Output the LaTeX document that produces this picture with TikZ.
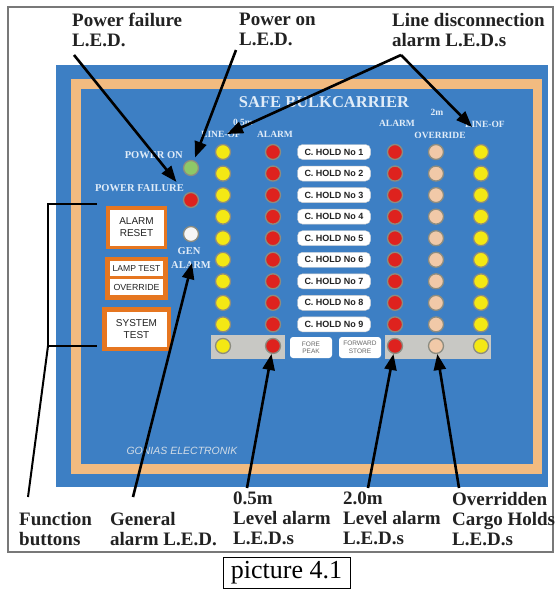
\documentclass[tikz,border=0pt]{standalone}
\usepackage{fontspec}
\setmainfont{Liberation Serif}
\newfontfamily\panelsans{Liberation Sans}
\usetikzlibrary{arrows.meta}

\definecolor{panelblue}{RGB}{61,127,196}
\definecolor{trim}{RGB}{242,187,128}
\definecolor{btnorange}{RGB}{230,118,32}
\definecolor{ledyellow}{RGB}{244,232,20}
\definecolor{ledred}{RGB}{222,34,30}
\definecolor{ledpeach}{RGB}{241,201,168}
\definecolor{ledgreen}{RGB}{142,200,104}
\definecolor{ledwhite}{RGB}{246,246,246}
\definecolor{ledrim}{RGB}{140,140,128}
\definecolor{paneltext}{RGB}{224,236,248}
\definecolor{bandgray}{RGB}{200,200,196}
\definecolor{ink}{RGB}{34,34,34}
\definecolor{framegray}{RGB}{120,120,120}

\tikzset{
  led/.style={circle, draw=ledrim, line width=1.3pt, inner sep=0pt, minimum size=15pt},
  paneltag/.style={font=\bfseries\fontsize{10.5}{11}\selectfont, text=paneltext, inner sep=0pt},
  colhead/.style={font=\bfseries\fontsize{9.5}{10}\selectfont, text=paneltext, inner sep=0pt},
  holdtag/.style={fill=white, draw=black!20, rounded corners=5pt, minimum width=73pt,
    minimum height=15pt, inner sep=0pt, text=ink,
    font=\panelsans\bfseries\fontsize{9}{9}\selectfont},
  smalltag/.style={fill=white, rounded corners=3pt, minimum width=42pt, minimum height=21pt,
    inner sep=0pt, align=center, text=black!60,
    font=\panelsans\fontsize{6.5}{7.5}\selectfont},
  btntext/.style={font=\panelsans\fontsize{10}{12}\selectfont, align=center, text=ink},
  callout/.style={font=\bfseries\fontsize{19}{20}\selectfont, align=left, anchor=north west,
    inner sep=0pt, text=ink},
  pointer/.style={draw=black, line width=2.6pt, -{Triangle[length=16pt,width=12pt]}},
  bracket/.style={draw=black, line width=2pt}
}

\begin{document}
\begin{tikzpicture}[x=1pt,y=-1pt]
\useasboundingbox (0,0) rectangle (556,590);
\fill[white] (0,0) rectangle (556,590);

% outer frame and the panel face
\draw[framegray, line width=1.4pt] (8,7) rectangle (553,552);
\fill[panelblue] (56,65) rectangle (548,487);
\draw[trim, line width=9.5pt] (76,84) rectangle (537.5,469);

% panel title and maker
\node[font=\bfseries\fontsize{16.5}{17}\selectfont, text=paneltext, inner sep=0pt] (title) at (324,102) {SAFE BULKCARRIER};
\node[font=\panelsans\itshape\fontsize{10.5}{11}\selectfont, text=paneltext!85!gray, inner sep=0pt] (maker) at (182,451) {GONIAS ELECTRONIK};

% column headings
\node[colhead] (h05) at (243,122) {0.5m};
\node[colhead] (hlineL) at (221,134) {LINE-OF};
\node[colhead] (halarmL) at (275,134) {ALARM};
\node[colhead] (halarmR) at (397,123) {ALARM};
\node[colhead] (h2m) at (437,112) {2m};
\node[colhead] (hover) at (440,135) {OVERRIDE};
\node[colhead] (hlineR) at (485,124) {LINE-OF};

% grey bands behind the last row
\fill[bandgray] (211,335) rectangle (285,359);
\fill[bandgray] (385,335) rectangle (491,359);

% LED columns and hold labels
\foreach \i in {1,...,10}{
  \pgfmathsetmacro{\yy}{152+(\i-1)*21.55}
  \node[led, fill=ledyellow] (yl\i) at (223,\yy) {};
  \node[led, fill=ledred] (ra\i) at (273,\yy) {};
  \node[led, fill=ledred] (rb\i) at (395,\yy) {};
  \node[led, fill=ledpeach] (ov\i) at (436,\yy) {};
  \node[led, fill=ledyellow] (yr\i) at (481,\yy) {};
}
\foreach \i in {1,...,9}{
  \pgfmathsetmacro{\yy}{152+(\i-1)*21.55}
  \node[holdtag] (hold\i) at (334,\yy) {C. HOLD No \i};
}
\node[smalltag] (fore) at (311,347.5) {FORE\\PEAK};
\node[smalltag] (fwd) at (360,347.5) {FORWARD\\STORE};

% status lamps
\node[paneltag, anchor=east] (tagon) at (183,155) {POWER ON};
\node[paneltag, anchor=east] (tagfail) at (184,188) {POWER FAILURE};
\node[led, fill=ledgreen] (pon) at (191,168) {};
\node[led, fill=ledred] (pfail) at (191,200) {};
\node[led, fill=ledwhite] (gen) at (191,234) {};
\node[paneltag] (taggen) at (189,251) {GEN};
\node[paneltag] (taggenal) at (191,265) {ALARM};

% function buttons
\node[draw=btnorange, line width=3.5pt, fill=white, minimum width=57.5pt, minimum height=39.5pt,
  inner sep=0pt, btntext] (reset) at (136.5,227.5) {ALARM\\RESET};
\node[fill=btnorange, minimum width=63pt, minimum height=43pt, inner sep=0pt] (pair) at (136.5,278.5) {};
\node[fill=white, minimum width=53pt, minimum height=15pt, inner sep=0pt, btntext,
  font=\panelsans\fontsize{8.6}{9}\selectfont] (lamp) at (136.5,268.5) {LAMP TEST};
\node[fill=white, minimum width=53pt, minimum height=16pt, inner sep=0pt, btntext,
  font=\panelsans\fontsize{8.8}{9}\selectfont] (ovr) at (136.5,287) {OVERRIDE};
\node[draw=btnorange, line width=4.5pt, fill=white, minimum width=64.5pt, minimum height=39.5pt,
  inner sep=0pt, btntext] (systest) at (136.5,329) {SYSTEM\\TEST};

% callout texts
\node[callout] (cfail) at (72,13) {Power failure\\L.E.D.};
\node[callout] (con) at (239,13) {Power on\\L.E.D.};
\node[callout] (cline) at (392,13) {Line disconnection\\alarm L.E.D.s};
\node[callout] (cfunc) at (19,512) {Function\\buttons};
\node[callout] (cgen) at (110,512) {General\\alarm L.E.D.};
\node[callout] (c05) at (233,492) {0.5m\\Level alarm\\L.E.D.s};
\node[callout] (c20) at (343,492) {2.0m\\Level alarm\\L.E.D.s};
\node[callout] (cover) at (452,492) {Overridden\\Cargo Holds\\L.E.D.s};

% connector end points
\coordinate (sfail) at (74,55);
\coordinate (son) at (236,50);
\coordinate (sline) at (401,55);
\coordinate (tlineL) at (227,134);
\coordinate (tlineR) at (472,127);
\coordinate (sgen) at (133,497);
\coordinate (tgen) at (192,263);
\coordinate (s05) at (247,488);
\coordinate (s20) at (368,488);
\coordinate (sover) at (459,488);
\coordinate (brTop) at (97,204);
\coordinate (brTopC) at (48,204);
\coordinate (brBotC) at (48,346);
\coordinate (brBot) at (97,346);
\coordinate (sfunc) at (28,497);

% function button bracket
\draw[bracket] (brTop) -- (brTopC) -- (brBotC) -- (brBot);
\draw[bracket] (brBotC) -- (sfunc);

% pointers
\draw[pointer, shorten >=15pt] (sfail) -- (pfail);
\draw[pointer, shorten >=3pt] (son) -- (pon);
\draw[pointer] (sline) -- (tlineL);
\draw[pointer] (sline) -- (tlineR);
\draw[pointer] (sgen) -- (tgen);
\draw[pointer] (s05) -- (ra10);
\draw[pointer] (s20) -- (rb10);
\draw[pointer] (sover) -- (ov10);

% caption
\node[draw=black, line width=1pt, minimum width=127pt, minimum height=31pt, inner sep=0pt,
  font=\fontsize{26}{26}\selectfont] (caption) at (286.5,572.5) {picture 4.1};
\end{tikzpicture}
\end{document}
